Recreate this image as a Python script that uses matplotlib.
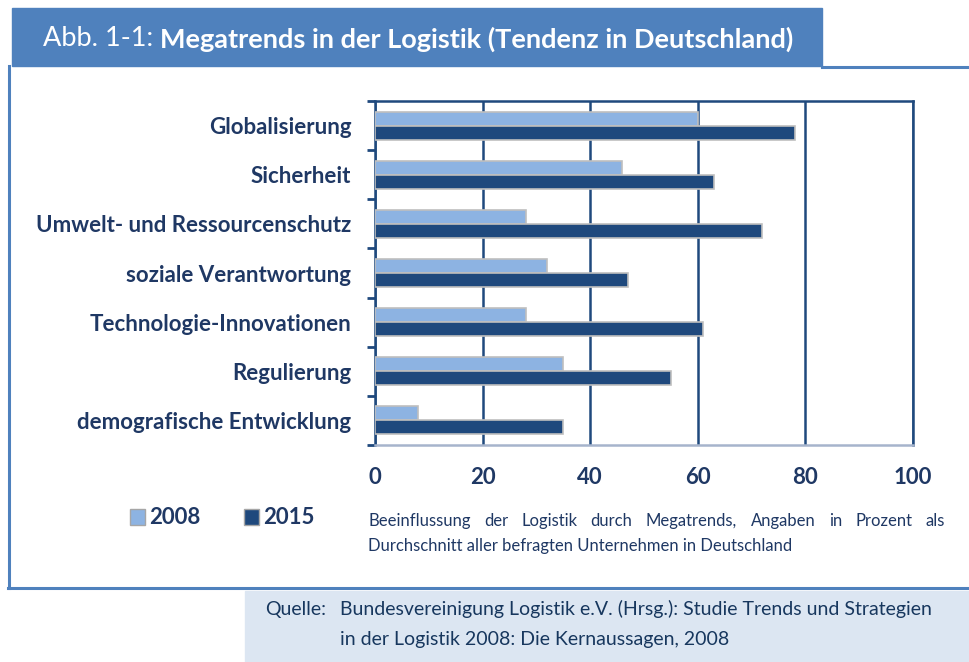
import matplotlib.pyplot as plt
import matplotlib.patches as mpatches
from matplotlib.lines import Line2D
import numpy as np

# data
categories = ["Globalisierung", "Sicherheit", "Umwelt- und Ressourcenschutz",
              "soziale Verantwortung", "Technologie-Innovationen",
              "Regulierung", "demografische Entwicklung"]
vals_2008 = [60, 46, 28, 32, 28, 35, 8]
vals_2015 = [78, 63, 72, 47, 61, 55, 35]
xticks = [0, 20, 40, 60, 80, 100]

light = "#8db3e2"
dark = "#1f497d"
frame_blue = "#4f81bd"
navy = "#1f3864"

plt.rcParams['font.family'] = ['Lato', 'DejaVu Sans']

W, H = 969, 662
fig = plt.figure(figsize=(W / 100, H / 100), dpi=100)

def px(x0, y0, x1, y1):
    # pixel box (top-left origin) -> figure fraction
    return [x0 / W, 1 - y1 / H, (x1 - x0) / W, (y1 - y0) / H]

# background decoration
fig.patches.append(mpatches.Rectangle((12 / W, 1 - 66 / H), (822 - 12) / W, (66 - 8) / H,
                                      transform=fig.transFigure, color=frame_blue, zorder=0))
fig.patches.append(mpatches.Rectangle((245 / W, 0), (W - 245) / W, (662 - 591) / H,
                                      transform=fig.transFigure, color="#dce6f2", zorder=0))
for xs, ys in [([9, 9], [66, 588]), ([8, W], [588, 588]), ([822, W], [67, 67])]:
    fig.add_artist(Line2D([x / W for x in xs], [1 - y / H for y in ys],
                          transform=fig.transFigure, color=frame_blue, lw=2.2))

# title
t1 = fig.text(43 / W, 1 - 39 / H, "Abb. 1-1: ", color="white", fontsize=19.5, va="center")
r = fig.canvas.get_renderer()
bb = t1.get_window_extent(r)
fig.text(bb.x1 / W, 1 - 39 / H, "Megatrends in der Logistik (Tendenz in Deutschland)",
         color="white", fontsize=19.5, fontweight="bold", va="center")

# chart
ax = fig.add_axes(px(375, 101, 913, 445))
y = np.arange(len(categories))
h = 0.285
ax.barh(y - h / 2, vals_2008, height=h, color=light, edgecolor="#bfbfbf", linewidth=1.2, zorder=3)
ax.barh(y + h / 2, vals_2015, height=h, color=dark, edgecolor="#bfbfbf", linewidth=1.2, zorder=3)
ax.set_xlim(0, 100)
ax.set_ylim(len(categories) - 0.5, -0.5)
ax.set_xticks(xticks)
ax.set_xticklabels([str(v) for v in xticks], fontsize=16, fontweight="bold", color=navy)
ax.tick_params(axis="x", length=0, pad=16)
ax.set_yticks(y)
ax.set_yticklabels(categories, fontsize=16, fontweight="bold", color=navy)
ax.tick_params(axis="y", which="major", length=0, pad=17)
ax.set_yticks(np.arange(len(categories) + 1) - 0.5, minor=True)
ax.tick_params(axis="y", which="minor", length=6, width=2, color=dark, direction="out")
ax.grid(axis="x", color=dark, lw=1.8, zorder=1)
for s in ["top", "right", "left"]:
    ax.spines[s].set_color(dark)
    ax.spines[s].set_linewidth(1.8)
ax.spines["bottom"].set_color("#a6b4cc")
ax.spines["bottom"].set_linewidth(1.8)

# legend
for x0, col, lab in [(130, light, "2008"), (244, dark, "2015")]:
    fig.patches.append(mpatches.Rectangle((x0 / W, 1 - 525 / H), 15 / W, 16 / H,
                                          transform=fig.transFigure, facecolor=col,
                                          edgecolor="#a6a6a6", lw=1))
    fig.text((x0 + 19) / W, 1 - 517 / H, lab, fontsize=16, fontweight="bold",
             color=navy, va="center")

# note, first line justified
words = "Beeinflussung der Logistik durch Megatrends, Angaben in Prozent als".split()
objs = [fig.text(0, 1 - 521 / H, w, fontsize=12, color=navy, va="center") for w in words]
widths = [o.get_window_extent(r).width for o in objs]
left, right = 368, 945
gap = (right - left - sum(widths)) / (len(words) - 1)
xpos = left
for o, wd in zip(objs, widths):
    o.set_x(xpos / W)
    xpos += wd + gap
fig.text(left / W, 1 - 546 / H, "Durchschnitt aller befragten Unternehmen in Deutschland",
         fontsize=12, color=navy, va="center")

# source
src_col = "#17375e"
fig.text(265 / W, 1 - 609 / H, "Quelle:", fontsize=14, color=src_col, va="center")
fig.text(340 / W, 1 - 609 / H,
         "Bundesvereinigung Logistik e.V. (Hrsg.): Studie Trends und Strategien",
         fontsize=14, color=src_col, va="center")
fig.text(340 / W, 1 - 640 / H, "in der Logistik 2008: Die Kernaussagen, 2008",
         fontsize=14, color=src_col, va="center")

fig.savefig("out.png", dpi=100)
